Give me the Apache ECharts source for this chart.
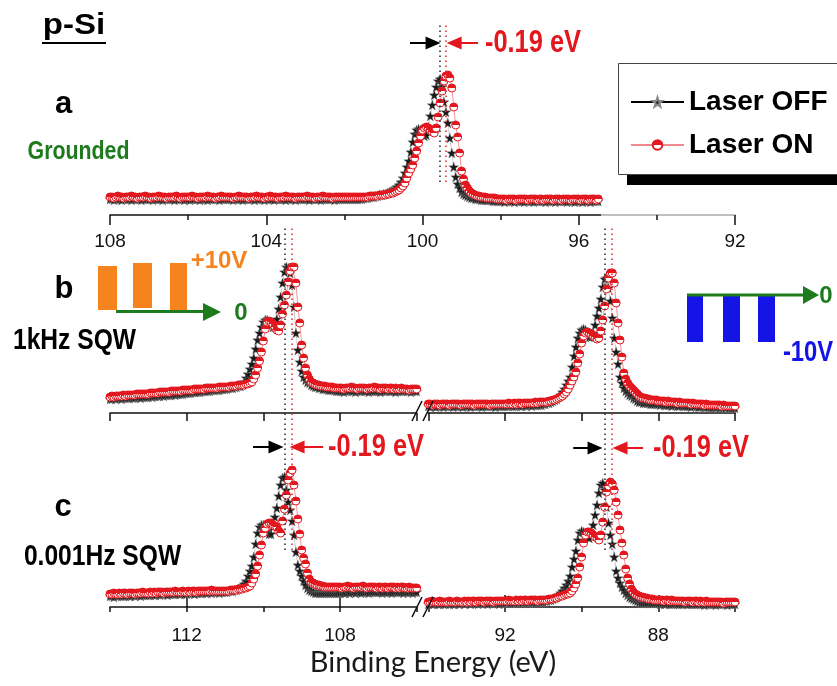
<!DOCTYPE html>
<html><head><meta charset="utf-8">
<script src="https://cdn.jsdelivr.net/npm/echarts@6/dist/echarts.min.js"></script>
<style>html,body{margin:0;padding:0;background:#fff}#c{width:837px;height:686px}</style>
</head><body><div id="c"></div>
<script>
// ---------------- data (intensity in arbitrary units, 0.05 eV step, energies descending) -------------
const STEP = 0.05;
const aStart = 108.0;   // panel a : 108.00 -> 95.50
const lStart = 114.0;   // panels b,c left : 114.00 -> 106.00
const rStart = 94.0;    // panels b,c right : 94.00 -> 86.00

const aOff = [
16,16,15,16,16,16,15,16,16,16,16,15,16,16,16,16,15,16,16,16,
16,16,15,16,16,16,16,15,16,16,16,16,16,15,16,16,16,16,15,16,
16,15,16,16,16,16,15,16,16,16,15,16,16,16,16,16,15,16,16,16,
16,16,16,15,16,16,16,16,15,16,16,16,16,16,15,16,16,16,16,15,
16,16,16,16,15,16,16,16,16,16,15,16,16,16,16,15,16,16,16,16,
16,16,15,16,16,16,16,16,15,16,16,16,16,16,16,15,16,16,16,16,
16,16,16,16,16,16,16,16,16,16,17,17,17,18,18,18,19,19,20,20,
21,21,22,23,24,25,26,28,30,33,37,42,48,54,63,73,81,85,86,85,
82,79,80,88,99,110,120,128,134,136,128,113,103,92,77,62,48,38,31,27,
23,21,20,19,18,17,17,16,16,16,15,15,15,15,15,15,14,14,14,14,
14,14,13,14,14,14,14,13,14,14,14,14,13,14,14,14,14,13,14,14,
14,14,14,13,14,14,14,14,13,14,14,14,14,14,13,14,14,14,13,14,
14,14,13,14,14,14,13,14,14,14,14];
const aOn = [
18,18,17,18,19,18,18,17,18,18,18,19,18,18,17,18,18,18,19,18,
18,17,18,18,18,19,18,18,18,17,18,18,18,18,19,18,17,18,18,18,
18,18,19,18,18,17,18,18,18,18,19,18,18,18,17,18,18,19,18,18,
18,18,18,17,18,18,19,18,18,18,18,17,18,18,18,19,18,18,18,17,
18,18,19,18,18,18,17,18,18,18,19,18,18,18,18,17,18,18,18,18,
18,19,18,18,18,17,18,18,18,19,18,18,18,18,17,18,18,18,18,18,
18,18,18,18,18,18,18,18,18,18,18,18,18,19,19,19,19,19,20,20,
20,20,21,21,22,22,23,24,25,27,29,32,37,42,46,50,57,64,72,79,
85,87,88,87,85,83,82,87,98,112,124,134,139,140,137,127,108,90,78,62,
44,36,30,27,24,22,21,20,19,19,18,18,18,17,17,17,17,17,16,16,
16,16,16,15,16,16,16,16,15,16,16,16,16,16,15,16,16,16,16,15,
16,16,15,16,16,16,16,15,16,16,16,15,16,16,16,16,15,16,16,16,
16,15,16,16,16,15,16,16,16,15,16];

const bOffL = [
14,14,15,14,15,15,14,15,15,15,15,16,15,15,16,16,15,16,16,16,
16,17,16,17,17,17,17,18,17,18,18,18,18,19,18,19,19,19,19,20,
20,20,20,21,21,21,21,21,22,22,22,22,22,23,23,23,23,23,24,24,
24,24,25,25,25,26,26,27,27,28,31,35,39,44,49,55,64,73,80,86,
91,93,93,91,88,86,86,94,104,116,130,141,146,145,140,128,106,80,63,51,
42,36,33,31,30,28,27,26,26,25,25,24,24,24,23,23,23,23,22,22,
22,22,21,22,22,23,22,22,21,22,22,22,23,22,22,21,22,22,22,22,
22,21,22,22,22,23,22,22,22,21,22,22,22,22,23,22,22,21,22,22,
22];
const bOnL = [
16,17,16,17,17,17,17,18,17,18,18,18,18,18,19,19,19,19,19,19,
19,20,20,20,20,20,21,21,21,21,21,21,22,22,22,22,22,22,23,23,
23,23,23,23,24,24,24,24,24,24,25,25,25,25,25,25,25,26,26,26,
26,26,26,27,27,27,27,28,28,28,28,29,29,30,31,34,38,45,52,61,
72,84,91,92,91,89,86,83,82,88,99,108,118,131,142,146,146,130,106,90,
68,55,45,38,34,31,30,29,28,28,27,27,27,26,26,26,26,25,25,25,
25,25,24,25,25,25,26,25,25,24,25,25,25,25,24,25,25,25,26,25,
25,24,25,25,25,24,25,25,24,25,24,24,25,24,24,24,23,24,24,24,
24];
const bOffR = [
7,6,7,7,6,7,7,7,6,7,7,7,7,6,7,7,7,7,6,7,
7,7,6,7,7,7,7,7,6,7,7,7,7,7,7,6,7,7,7,7,
7,7,7,8,7,7,7,8,7,7,8,7,8,8,7,8,8,8,8,8,
9,9,10,10,11,12,13,14,16,18,21,24,28,32,36,46,57,66,75,80,
83,84,83,80,76,76,80,88,97,105,114,126,134,135,125,112,95,75,61,49,
36,30,25,22,20,18,17,15,14,12,11,11,10,10,10,10,9,9,9,9,
9,8,9,8,8,8,8,7,8,8,7,7,8,7,7,7,7,6,7,7,
7,6,6,7,6,6,6,6,5,6,6,6,5,6,6,5,6,5,5,5,
5];
const bOnR = [
9,9,8,9,9,9,8,9,9,9,9,8,9,9,9,9,9,8,9,9,
9,9,9,9,8,9,9,9,9,9,9,9,8,9,9,9,9,9,9,9,
9,9,10,9,9,10,9,10,10,9,10,10,10,10,10,10,11,10,11,11,
11,11,11,12,12,13,13,14,15,16,17,19,21,24,28,32,36,41,50,59,
70,77,80,81,80,79,77,76,74,75,82,93,107,124,135,140,140,130,110,90,
73,56,40,34,30,27,25,23,21,19,17,16,15,15,14,14,13,13,13,13,
12,12,12,12,11,12,11,11,11,11,10,11,10,10,10,10,10,9,10,9,
9,9,9,9,8,9,8,8,8,8,8,8,8,7,8,7,7,7,7,7,
7];

const cOffL = [
11,11,10,11,11,12,11,11,11,12,11,11,12,11,12,12,11,12,12,12,
12,12,13,12,12,13,12,13,13,13,12,13,13,13,13,14,13,13,14,13,
13,14,14,14,13,14,14,14,14,15,14,14,15,14,15,15,15,14,15,15,
15,15,16,16,16,17,17,18,19,21,23,26,31,36,41,50,63,74,80,82,
82,80,76,73,73,80,90,99,111,122,129,130,117,105,97,86,72,55,42,36,
31,26,22,19,17,16,15,14,14,14,14,14,14,14,14,14,14,14,14,14,
14,15,14,14,15,14,15,15,14,15,15,14,15,15,15,14,15,15,15,15,
15,15,14,15,15,15,15,14,15,15,15,15,15,14,15,15,15,15,14,15,
15];
const cOnL = [
13,13,14,13,13,14,13,14,14,13,14,14,14,13,14,14,14,15,14,14,
14,15,14,15,14,15,15,15,14,15,15,15,15,15,16,15,15,15,16,15,
15,16,15,16,16,15,16,16,16,16,16,16,16,17,16,16,16,16,16,16,
16,16,16,17,17,17,17,18,18,18,19,19,20,21,24,28,33,41,52,62,
74,79,83,84,84,82,81,80,76,74,86,98,112,127,134,137,122,106,88,73,
57,49,43,34,28,25,24,23,22,22,21,21,20,20,20,20,20,20,20,20,
20,19,20,20,21,20,20,19,20,20,20,20,21,20,19,20,20,20,20,19,
20,20,19,20,20,19,20,20,20,19,20,19,20,20,19,19,20,19,19,19,
19];
const cOffR = [
3,4,3,3,4,3,3,4,3,3,4,3,4,3,3,4,3,4,4,3,
4,4,3,4,4,4,3,4,4,4,4,3,4,4,4,4,4,3,4,4,
4,4,5,4,4,4,5,4,5,4,5,5,4,5,5,5,4,5,5,5,
5,6,6,7,7,8,9,10,12,14,16,19,22,26,31,40,48,56,67,74,
76,75,73,70,69,74,82,92,102,114,122,124,117,100,84,72,63,50,36,29,
24,20,17,14,12,10,9,8,7,6,5,4,4,4,4,4,4,4,4,4,
4,3,4,3,3,4,3,3,3,4,3,3,3,3,4,3,3,3,3,3,
3,3,3,3,2,3,3,3,3,3,2,3,3,3,3,3,2,3,3,3,
3];
const cOnR = [
5,5,6,5,5,5,6,5,5,5,5,6,5,5,5,6,5,5,5,6,
5,6,5,6,6,5,6,6,6,5,6,6,6,6,5,6,6,6,6,6,
6,6,7,6,6,6,7,6,7,6,7,7,6,7,7,7,7,6,7,7,
7,7,7,8,8,8,9,9,10,11,11,12,13,13,14,16,19,23,29,40,
50,64,72,75,75,74,72,70,69,67,72,85,100,115,121,125,123,117,105,92,
77,64,52,38,29,23,18,15,13,12,11,10,10,9,9,8,8,8,7,7,
7,7,7,6,7,7,6,7,6,6,6,6,6,6,5,6,6,6,5,6,
6,5,6,5,5,6,5,5,5,5,5,5,5,5,4,5,5,5,5,5,
5];

// peak positions marked by dotted lines (eV)
const aPeaks = [99.55, 99.40];
const lPeaks = [109.43, 109.26];
const rPeaks = [89.41, 89.22];
const shiftText = '-0.19 eV';
const legendNames = ['Laser OFF', 'Laser ON'];
const axisTitle = 'Binding Energy (eV)';

// sanity check on lengths
[[aOff,251],[aOn,251],[bOffL,161],[bOnL,161],[bOffR,161],[bOnR,161],[cOffL,161],[cOnL,161],[cOffR,161],[cOnR,161]]
  .forEach(([arr,n],i)=>{ if(arr.length!==n) throw new Error('array '+i+' has '+arr.length+' expected '+n); });

// ---------------- styles -------------
const FB = "'Liberation Sans',Arial,sans-serif";
const RED = '#e3171e', GREEN = '#1d7a1d', ORANGE = '#f5841f', BLUE = '#1414e6';
const starPath = 'path://M0,-10L2.35,-3.24L9.51,-3.09L3.8,1.24L5.88,8.09L0,4L-5.88,8.09L-3.8,1.24L-9.51,-3.09L-2.35,-3.24Z';

function pairs(start, vals){ return vals.map((v,i)=>[+(start - i*STEP).toFixed(2), v]); }
const halfFill = new echarts.graphic.LinearGradient(0,0,0,1,[
  {offset:0,color:RED},{offset:0.5,color:RED},{offset:0.5,color:'#fff'},{offset:1,color:'#fff'}]);

function offSeries(ax, start, vals){
  return {name:legendNames[0], type:'line', xAxisIndex:ax, yAxisIndex:ax, data:pairs(start, vals),
    symbol:starPath, symbolSize:10, showSymbol:true, z:2,
    lineStyle:{color:'#555', width:0.6, type:'dotted'},
    itemStyle:{color:'#1a1a1a', borderColor:'#888', borderWidth:0.4}};
}
function onSeries(ax, start, vals){
  return {name:legendNames[1], type:'line', xAxisIndex:ax, yAxisIndex:ax, data:pairs(start, vals),
    symbol:'circle', symbolSize:8, showSymbol:true, z:3,
    lineStyle:{color:'#f06a6a', width:0.7},
    itemStyle:{color:halfFill, borderColor:RED, borderWidth:1}};
}
function xa(grid, min, max, extra){
  return Object.assign({type:'value', gridIndex:grid, min:min, max:max, inverse:true, interval:2,
    splitLine:{show:false},
    axisLine:{show:true, onZero:false, lineStyle:{color:'#111', width:1.5}},
    axisTick:{show:true, length:8, lineStyle:{color:'#111', width:1.5}},
    axisLabel:{show:false}}, extra||{});
}
const lblStyle = {show:true, fontSize:19, fontFamily:FB, color:'#111'};

const grids = [
  {left:110, top:15, width:625, height:200},      // 0 a
  {left:110, top:213, width:306.7, height:200},   // 1 b left
  {left:428.3, top:213, width:306.7, height:200}, // 2 b right
  {left:110, top:407, width:306.7, height:200},   // 3 c left
  {left:428.3, top:407, width:306.7, height:200}, // 4 c right
  {left:110, top:207, width:306.7, height:400},   // 5 overlay left
  {left:428.3, top:207, width:306.7, height:400}  // 6 overlay right
];
const xAxes = [
  xa(0, 92, 108, {interval:4,
     axisLine:{show:true, onZero:false, lineStyle:{width:1.5, color:new echarts.graphic.LinearGradient(0,0,1,0,[
       {offset:0,color:'#111'},{offset:0.784,color:'#111'},{offset:0.784,color:'#aaa'},{offset:1,color:'#aaa'}])}},
     axisTick:{show:true, length:10, lineStyle:{color:'#111', width:1.5}},
     minorTick:{show:true, splitNumber:2, length:5, lineStyle:{color:'#111', width:1.5}},
     axisLabel:Object.assign({margin:17}, lblStyle)}),
  xa(1, 106, 114),
  xa(2, 86, 94),
  xa(3, 106, 114, {axisTick:{show:true, length:5, lineStyle:{color:'#111', width:1.5}},
     axisLabel:Object.assign({margin:19, formatter:v=>(v%4===0?String(v):'')}, lblStyle)}),
  xa(4, 86, 94, {axisTick:{show:true, length:5, lineStyle:{color:'#111', width:1.5}},
     axisLabel:Object.assign({margin:19, formatter:v=>(v%4===0?String(v):'')}, lblStyle)}),
  xa(5, 106, 114, {show:false}),
  xa(6, 86, 94, {show:false}),
  xa(3, 106, 114, {axisLine:{show:false}, axisTick:{show:true, length:12, customValues:[112,108], lineStyle:{color:'#111', width:1.5}}}),
  xa(4, 86, 94, {axisLine:{show:false}, axisTick:{show:true, length:12, customValues:[92,88], lineStyle:{color:'#111', width:1.5}}})
];
const yAxes = grids.map((g,i)=>({type:'value', gridIndex:i, min:0, max:g.height, show:false}));

function dotted(e, y0, y1, color){
  return [{coord:[e,y0], symbol:'none', lineStyle:{color:color, width:1.6, type:[1.6,3.4]}}, {coord:[e,y1], symbol:'none'}];
}
function arrow(e0, e1, y, color){
  return [{coord:[e0,y], symbol:'none', lineStyle:{color:color, width:2, type:'solid'}},
          {coord:[e1,y], symbol:'triangle', symbolSize:[13,15]}];
}
function markSeries(ax, lines){
  return {type:'line', xAxisIndex:ax, yAxisIndex:ax, data:[], silent:true, z:5,
    markLine:{silent:true, symbol:'none', animation:false, label:{show:false}, data:lines}};
}

const series = [
  offSeries(0, aStart, aOff), onSeries(0, aStart, aOn),
  offSeries(1, lStart, bOffL), onSeries(1, lStart, bOnL),
  offSeries(2, rStart, bOffR), onSeries(2, rStart, bOnR),
  offSeries(3, lStart, cOffL), onSeries(3, lStart, cOnL),
  offSeries(4, rStart, cOffR), onSeries(4, rStart, cOnR),
  markSeries(0, [dotted(aPeaks[0],33,193,'#333'), dotted(aPeaks[1],33,193,'#d33'),
                 arrow(100.32, 99.73, 172, '#000'), arrow(98.58, 99.19, 172, RED)]),
  markSeries(5, [dotted(lPeaks[0],57,379,'#333'), dotted(lPeaks[1],57,379,'#d33'),
                 arrow(110.27, 109.67, 160, '#000'), arrow(108.44, 109.12, 160, RED)]),
  markSeries(6, [dotted(rPeaks[0],57,379,'#333'), dotted(rPeaks[1],57,379,'#d33'),
                 arrow(90.22, 89.65, 159, '#000'), arrow(88.40, 89.00, 159, RED)])
];

function T(x, y, s, size, color, o){
  o = o||{};
  return {type:'text', x:x, y:y, scaleX:o.sx||1, z:20,
    style:{text:s, fill:color, font:(o.w||'bold')+' '+size+'px '+(o.ff||FB), align:'center', verticalAlign:'middle'}};
}
function R(x,y,w,h,c,z){ return {type:'rect', shape:{x:x,y:y,width:w,height:h}, style:{fill:c}, z:z||15}; }
function L(x1,y1,x2,y2,c,w){ return {type:'line', shape:{x1:x1,y1:y1,x2:x2,y2:y2}, style:{stroke:c, lineWidth:w}, z:15}; }
function P(pts,c){ return {type:'polygon', shape:{points:pts}, style:{fill:c}, z:15}; }

const graphics = [
  T(74, 26, 'p-Si', 30, '#000', {sx:1.1}), L(42, 43, 106, 43, '#000', 2),
  T(63.5, 104, 'a', 31, '#000'),
  T(78.5, 152, 'Grounded', 26, GREEN, {sx:0.82}),
  T(64, 289, 'b', 31, '#000'),
  T(74.5, 341, '1kHz SQW', 30, '#000', {sx:0.82}),
  T(63, 507, 'c', 31, '#000'),
  T(102.5, 557, '0.001Hz SQW', 30, '#000', {sx:0.82}),
  // legend frame with hard shadow
  R(627, 73, 230, 112, '#000', 1),
  {type:'rect', shape:{x:618.5, y:63.5, width:240, height:111}, style:{fill:'#fff', stroke:'#444', lineWidth:1}, z:2},
  // +10V square wave
  R(98, 266, 19, 44, ORANGE), R(133, 263, 19, 45, ORANGE), R(170, 263, 17, 47, ORANGE),
  L(116, 311.5, 205, 311.5, GREEN, 3), P([[203,303],[203,321],[221,312]], GREEN),
  T(219, 261.5, '+10V', 24, ORANGE),
  T(241, 313.5, '0', 24, GREEN),
  // -10V square wave
  R(687, 296, 16, 46, BLUE), R(723, 296, 17, 46, BLUE), R(758, 296, 17, 46, BLUE),
  L(687, 295, 805, 295, GREEN, 3), P([[803,286],[803,304],[819,295]], GREEN),
  T(826, 296, '0', 24, GREEN),
  T(808, 352.5, '-10V', 29, BLUE, {sx:0.82}),
  // shift labels
  T(533, 43, shiftText, 31, RED, {sx:0.82}),
  T(376, 447, shiftText, 31, RED, {sx:0.82}),
  T(701, 448, shiftText, 31, RED, {sx:0.82}),
  // axis breaks
  L(412, 421, 422, 401, '#111', 1.5), L(423, 421, 433, 401, '#111', 1.5),
  L(412, 617, 422, 597, '#111', 1.5), L(423, 617, 433, 597, '#111', 1.5),
  // axis title
  T(433, 663, axisTitle, 29, '#1a1a1a', {w:'normal', ff:"Lato,'Open Sans',sans-serif"})
];

const chart = echarts.init(document.getElementById('c'), null, {renderer:'canvas'});
chart.setOption({
  animation:false,
  backgroundColor:'#fff',
  grid:grids, xAxis:xAxes, yAxis:yAxes, series:series,
  legend:{
    data:[{name:legendNames[0], lineStyle:{color:'#000', width:2, type:'solid'}},
          {name:legendNames[1], lineStyle:{color:RED, width:1.2, type:'solid'}}],
    left:618, top:65, orient:'vertical', selectedMode:false, z:10,
    itemWidth:53, itemHeight:12, itemGap:9,
    padding:[20,10,15,12],
    textStyle:{fontSize:28, fontWeight:'bold', fontFamily:FB, color:'#000', lineHeight:34}
  },
  graphic:graphics
});
</script>
</body></html>
